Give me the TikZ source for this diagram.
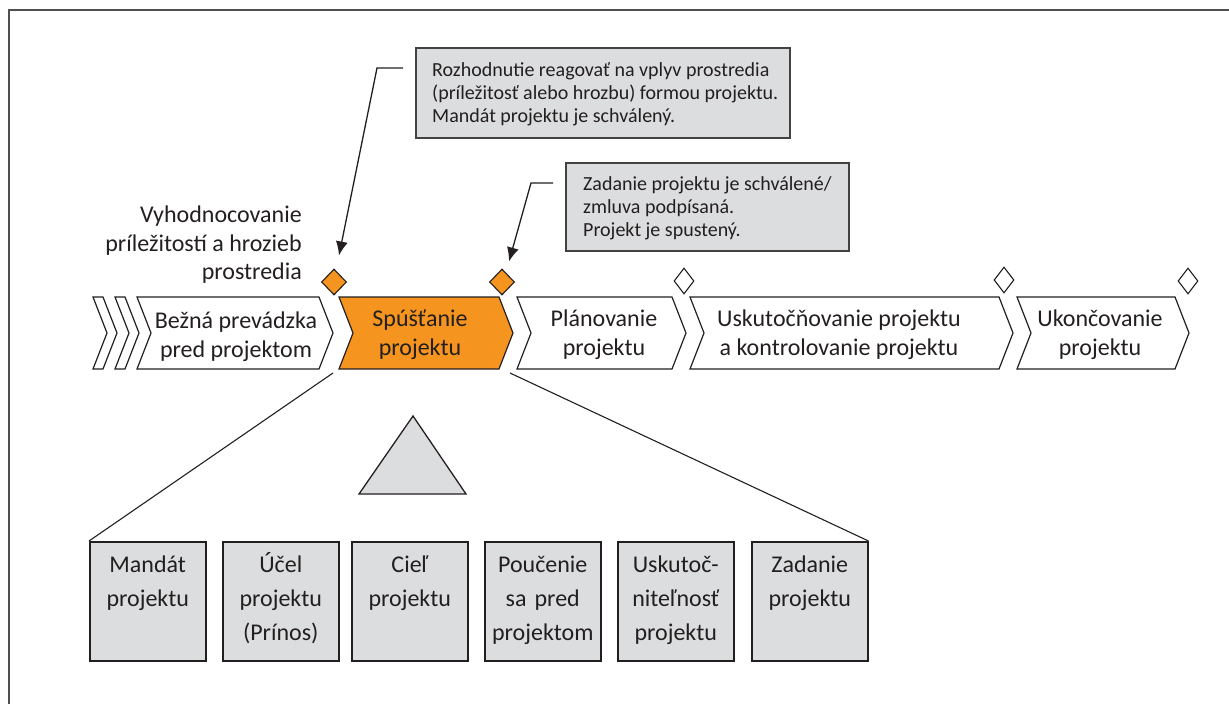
\documentclass[tikz,border=0pt]{standalone}
\usepackage{fontspec}
\setmainfont{Carlito}
\usetikzlibrary{arrows.meta,shapes.geometric}

\definecolor{orangefill}{RGB}{245,148,30}
\definecolor{greyfill}{RGB}{220,221,222}
\definecolor{ink}{RGB}{35,31,32}
\definecolor{framegrey}{RGB}{80,80,80}

% chevron outline: #1 left x, #2 tip x, #3 style
\newcommand{\drawchev}[3]{%
  \path[#3] (#1,297) -- ({#2-14},297) -- (#2,333) -- ({#2-14},369)
    -- (#1,369) -- ({#1+14},333) -- cycle;}

\begin{document}
\begin{tikzpicture}[x=1pt,y=-1pt,line join=miter,
  chev/.style={draw=ink,line width=1.2pt,fill=white},
  chevhot/.style={chev,fill=orangefill},
  chevtext/.style={text=ink,align=center,inner sep=0pt,
    font=\fontsize{24}{29}\selectfont},
  sidetext/.style={text=ink,align=right,inner sep=0pt,
    font=\fontsize{24}{28.3}\selectfont},
  milestone/.style={diamond,draw=ink,line width=1.1pt,inner sep=0pt,
    minimum width=25pt,minimum height=26pt,fill=orangefill},
  gate/.style={diamond,draw=ink,line width=1.1pt,inner sep=0pt,
    minimum width=20pt,minimum height=26pt,fill=white},
  callbox/.style={draw=ink!85,line width=1.8pt,fill=greyfill,inner sep=0pt,
    anchor=north west},
  calltext/.style={text=ink,align=left,inner sep=0pt,anchor=west,
    font=\fontsize{20}{23}\selectfont},
  leader/.style={draw=ink,line width=1.3pt,-{Latex[length=14pt,width=12pt]}},
  docbox/.style={draw=ink,line width=1.5pt,fill=greyfill,anchor=north west,
    minimum width=116pt,text width=112pt,align=center,text=ink,
    inner xsep=2pt,inner ysep=14pt,text height=17pt,text depth=74pt,
    font=\fontsize{24}{34}\selectfont},
  fan/.style={draw=ink,line width=1.1pt}]

\useasboundingbox (0,0) rectangle (1229,704);

% page frame (top and left rules)
\draw[framegrey,line width=1.5pt] (9,704) -- (9,10) -- (1229,10);

% process chevrons
\drawchev{93}{117}{chev}
\drawchev{115}{139}{chev}
\drawchev{137}{333}{chev}
\drawchev{339}{513}{chevhot}
\drawchev{517}{686}{chev}
\drawchev{690}{1013}{chev}
\drawchev{1017}{1189}{chev}

\node[chevtext] (bezna) at (236,337) {Bežná prevádzka\\pred projektom};
\node[chevtext] (spust) at (420,335) {Spúšťanie\\projektu};
\node[chevtext] (plan)  at (604,335) {Plánovanie\\projektu};
\node[chevtext] (usk)   at (839,335) {Uskutočňovanie projektu\\a kontrolovanie projektu};
\node[chevtext] (ukon)  at (1100,335) {Ukončovanie\\projektu};

% milestones
\node[milestone] (d1) at (334,282) {};
\node[milestone] (d2) at (502,282) {};
\node[gate] (d3) at (684,281) {};
\node[gate] (d4) at (1004,280) {};
\node[gate] (d5) at (1188,281) {};

% side label
\node[sidetext,anchor=base east] (eval) at (302,279.3)
  {Vyhodnocovanie\\príležitostí a hrozieb\\prostredia};

% callouts
\node[callbox,minimum width=374pt,minimum height=90pt] (c1) at (415,47) {};
\node[calltext] (c1t) at ([shift={(17,1)}]c1.west)
  {Rozhodnutie reagovať na vplyv prostredia\\
   (príležitosť alebo hrozbu) formou projektu.\\
   Mandát projektu je schválený.};
\node[callbox,minimum width=283pt,minimum height=88pt] (c2) at (565,162) {};
\node[calltext] (c2t) at ([shift={(18,1)}]c2.west)
  {Zadanie projektu je schválené/\\
   zmluva podpísaná.\\
   Projekt je spustený.};

\coordinate (c1a) at (403,68);
\coordinate (c1b) at (377,68);
\coordinate (c1tip) at ([shift={(5,-13)}]d1.north);
\coordinate (c2a) at (553,183);
\coordinate (c2b) at (531,183);
\coordinate (c2tip) at ([shift={(7,-7)}]d2.north);
\draw[leader] (c1a) -- (c1b) -- (c1tip);
\draw[leader] (c2a) -- (c2b) -- (c2tip);

% documents produced while starting up
\node[docbox] (b1) at (89,541) {Mandát\\projektu};
\node[docbox] (b2) at (222,541) {Účel\\projektu\\(Prínos)};
\node[docbox] (b3) at (351,541) {Cieľ\\projektu};
\node[docbox] (b4) at (484,541) {Poučenie\\sa pred\\projektom};
\node[docbox] (b5) at (617,541) {Uskutoč-\\niteľnosť\\projektu};
\node[docbox] (b6) at (751,541) {Zadanie\\projektu};

% zoom-out fan and triangle
\coordinate (fanl) at (333,373);
\coordinate (fanr) at (510,373);
\draw[fan] (fanl) -- (b1.north west);
\draw[fan] (fanr) -- (b6.north east);
\draw[fill=greyfill,draw=ink,line width=1.3pt] (413,416) -- (466,494) -- (359,494) -- cycle;

\end{tikzpicture}
\end{document}
